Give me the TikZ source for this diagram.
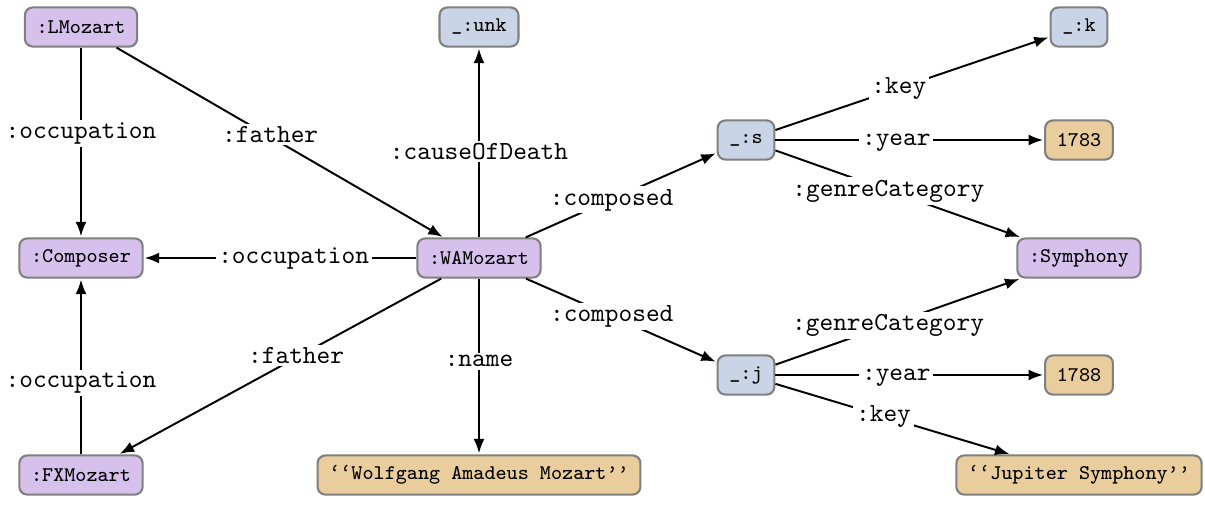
\documentclass[tikz,border=0pt]{standalone}
\usetikzlibrary{arrows.meta}
\definecolor{clsfill}{RGB}{213,193,236}
\definecolor{blankfill}{RGB}{201,212,230}
\definecolor{litfill}{RGB}{233,205,156}
\definecolor{rim}{RGB}{128,128,128}
\begin{document}
\begin{tikzpicture}[x=0.3831pt,y=-0.3831pt,
  box/.style={draw=rim, line width=0.8pt, rounded corners=3pt,
    font=\ttfamily\footnotesize, inner xsep=4.5pt, inner ysep=0pt,
    minimum height=15pt, minimum width=20pt},
  res/.style={box, fill=clsfill},
  bnode/.style={box, fill=blankfill},
  litnode/.style={box, fill=litfill},
  rel/.style={line width=0.75pt, shorten >=0.4pt,
    -{Latex[length=5.5pt,width=4.2pt]}},
  lbl/.style={font=\ttfamily, fill=white, inner sep=1pt, anchor=mid, pos=0.45}]
\useasboundingbox (0,0) rectangle (1205,510);

% resources, blank nodes and literals
\node[res]     (lm)   at (81,27)   {:LMozart};
\node[bnode]   (unk)  at (479,27)  {\_:unk};
\node[bnode]   (k)    at (1079,27) {\_:k};
\node[bnode]   (s)    at (746,140) {\_:s};
\node[litnode] (y1)   at (1079,140) {1783};
\node[res]     (comp) at (81,258)  {:Composer};
\node[res]     (wa)   at (479,258) {:WAMozart};
\node[res]     (sym)  at (1079,258) {:Symphony};
\node[bnode]   (j)    at (746,375) {\_:j};
\node[litnode] (y2)   at (1079,375) {1788};
\node[res]     (fx)   at (81,475)  {:FXMozart};
\node[litnode] (name) at (479,475) {‘‘Wolfgang Amadeus Mozart’’};
\node[litnode] (jup)  at (1079,475) {‘‘Jupiter Symphony’’};

% properties
\draw[rel] (lm) -- node[lbl] {:occupation} (comp);
\draw[rel] (lm) -- node[lbl, pos=0.47] {:father} (wa);
\draw[rel] (wa) -- node[lbl] {:occupation} (comp);
\draw[rel] (fx) -- node[lbl, pos=0.41] {:occupation} (comp);
\draw[rel] (wa) -- node[lbl] {:father} (fx);
\draw[rel] (wa) -- node[lbl, pos=0.44] {:causeOfDeath} (unk);
\draw[rel] (wa) -- node[lbl, pos=0.47] {:name} (name);
\draw[rel] (wa) -- node[lbl] {:composed} (s);
\draw[rel] (wa) -- node[lbl] {:composed} (j);
\draw[rel] (s) -- node[lbl] {:key} (k);
\draw[rel] (s) -- node[lbl] {:year} (y1);
\draw[rel] (s) -- node[lbl, pos=0.46] {:genreCategory} (sym);
\draw[rel] (j) -- node[lbl, pos=0.46] {:genreCategory} (sym);
\draw[rel] (j) -- node[lbl] {:year} (y2);
\draw[rel] (j) -- node[lbl, pos=0.46] {:key} (jup);
\end{tikzpicture}
\end{document}
